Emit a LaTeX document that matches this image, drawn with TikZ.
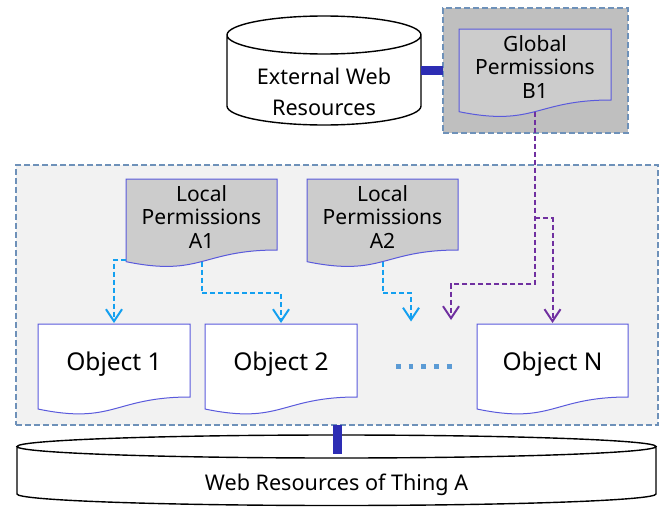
\documentclass[tikz,border=0pt]{standalone}
\usepackage{fontspec}
\setmainfont{Noto Sans}
\usetikzlibrary{arrows.meta,calc}

\pgfdeclarelayer{back}
\pgfdeclarelayer{mid}
\pgfsetlayers{back,mid,main}

\definecolor{regionfill}{RGB}{242,242,242}
\definecolor{globalfill}{RGB}{191,191,191}
\definecolor{regionline}{RGB}{110,145,185}
\definecolor{docgray}{RGB}{204,204,204}
\definecolor{docblue}{RGB}{90,90,220}
\definecolor{linkblue}{RGB}{45,45,180}
\definecolor{arrowblue}{RGB}{20,160,240}
\definecolor{arrowpurple}{RGB}{112,48,160}
\definecolor{dotblue}{RGB}{91,155,213}

\tikzset{
  region/.style={draw=regionline, line width=1.2pt, dash pattern=on 6pt off 3pt,
    inner sep=0pt, outer sep=0pt},
  docshape/.style={inner sep=0pt, outer sep=0pt},
  doctext/.style={align=center, font=\fontsize{21}{23.3}\selectfont, yshift=-2.5pt},
  objtext/.style={align=center, font=\fontsize{24.5}{28}\selectfont, yshift=-3.5pt},
  cyltext/.style={align=center, font=\fontsize{21.6}{31.5}\selectfont},
  docline/.style={draw=docblue, line width=1pt},
  cylline/.style={draw=black, line width=1.4pt, fill=white},
  thicklink/.style={draw=linkblue, line width=9pt},
  flowline/.style={line width=2pt, dash pattern=on 5pt off 3pt},
  flowarrow/.style={flowline, -{Straight Barb[length=12pt,width=16pt]}, shorten >=1pt},
  localflow/.style={flowarrow, draw=arrowblue},
  globalflow/.style={flowarrow, draw=arrowpurple},
}

% document outline (rectangle with a wavy bottom) around node #1, filled with #2;
% defines #1-w (middle of the wave) and #1-c (lower left corner)
\newcommand\docoutline[2]{%
  \path[docline, fill=#2] let \p1=(#1.north west), \p2=(#1.south east),
      \n1={\x2-\x1}, \n2={\y1-\y2} in
    (\p1) -- (\x2,\y1) -- (\p2)
    .. controls ({\x2-0.5*\n1},\y2) and ({\x2-0.5*\n1},{\y2-0.3815*\n2}) ..
    (\x1,{\y2-0.1646*\n2}) coordinate[pos=0.5] (#1-w) coordinate[pos=1] (#1-c)
    -- cycle;
}

% cylinder outline filling node #1, ellipse half height #2 (pt)
\newcommand\cylout[2]{%
  \path[cylline] let \p1=(#1.north west), \p2=(#1.south east),
      \n1={(\x2-\x1)/2} in
    (\x1,{\y1-#2}) -- (\x1,{\y2+#2})
    arc[start angle=180, end angle=360, x radius={\n1*1pt}, y radius=#2pt]
    -- (\x2,{\y1-#2})
    arc[start angle=0, end angle=180, x radius={\n1*1pt}, y radius=#2pt] -- cycle
    ({\x1+\n1},{\y1-#2}) ellipse[x radius={\n1*1pt}, y radius=#2pt];
}

\begin{document}
\begin{tikzpicture}[x=1pt, y=-1pt]
\useasboundingbox (0,0) rectangle (669,506);

% dashed regions
\begin{pgfonlayer}{back}
  \node[region, fill=globalfill, minimum width=185pt, minimum height=125pt] (gbox) at (535.5,70.5) {};
  \node[region, fill=regionfill, minimum width=642pt, minimum height=260pt] (main) at (337,295) {};
\end{pgfonlayer}

% cylinders
\node[docshape, minimum width=194pt, minimum height=109pt,
  label={[name=extlbl, cyltext, yshift=-21.25pt]center:External Web\\Resources}] (ext) at (324,70.5) {};
\node[docshape, minimum width=639pt, minimum height=70.5pt,
  label={[name=thinglbl, cyltext, yshift=-14.5pt]center:Web Resources of Thing A}] (thing) at (336.5,470.25) {};

% permission documents
\node[docshape, minimum width=152pt, minimum height=71pt,
  label={[name=gdoclbl, doctext]center:Global\\Permissions\\B1}] (gdoc) at (535,64.5) {};
\node[docshape, minimum width=151pt, minimum height=71pt,
  label={[name=a1lbl, doctext]center:Local\\Permissions\\A1}] (a1) at (201.5,214.5) {};
\node[docshape, minimum width=151pt, minimum height=71pt,
  label={[name=a2lbl, doctext]center:Local\\Permissions\\A2}] (a2) at (382.5,214.5) {};

% object documents
\node[docshape, minimum width=152pt, minimum height=73pt,
  label={[name=obj1lbl, objtext]center:Object 1}] (obj1) at (114,360.5) {};
\node[docshape, minimum width=152pt, minimum height=73pt,
  label={[name=obj2lbl, objtext]center:Object 2}] (obj2) at (281,360.5) {};
\node[docshape, minimum width=151pt, minimum height=73pt,
  label={[name=objNlbl, objtext]center:Object N}] (objN) at (552.5,360.5) {};

\begin{pgfonlayer}{mid}
  \cylout{ext}{19}
  \cylout{thing}{11.5}
  \docoutline{gdoc}{docgray}
  \docoutline{a1}{docgray}
  \docoutline{a2}{docgray}
  \docoutline{obj1}{white}
  \docoutline{obj2}{white}
  \docoutline{objN}{white}
\end{pgfonlayer}

% thick links
\draw[thicklink] (ext.east) -- (gbox.west);
\coordinate (thinglink) at (337,454);
\draw[thicklink] (main.south) -- (thinglink);

% ellipsis between objects
\draw[dotblue, line width=5pt, dash pattern=on 4.7pt off 8pt] (396,366) -- (453,366);

% local permission flows
\coordinate (e2) at (411,322.5);
\draw[localflow] ($(a1-c)+(0,-2)$) -| (obj1.north);
\draw[localflow] (a1-w) -- (a1-w |- 0,293) -| (obj2.north);
\draw[localflow] (a2-w) -- (a2-w |- 0,293) -| (e2);

% global permission flows
\coordinate (e3) at (451,321);
\coordinate (gsplit) at (gdoc-w |- 0,218);
\draw[globalflow] (gdoc-w) -- (gdoc-w |- 0,284) -| (e3);
\draw[globalflow] (gsplit) -| (objN.north);
\end{tikzpicture}
\end{document}
